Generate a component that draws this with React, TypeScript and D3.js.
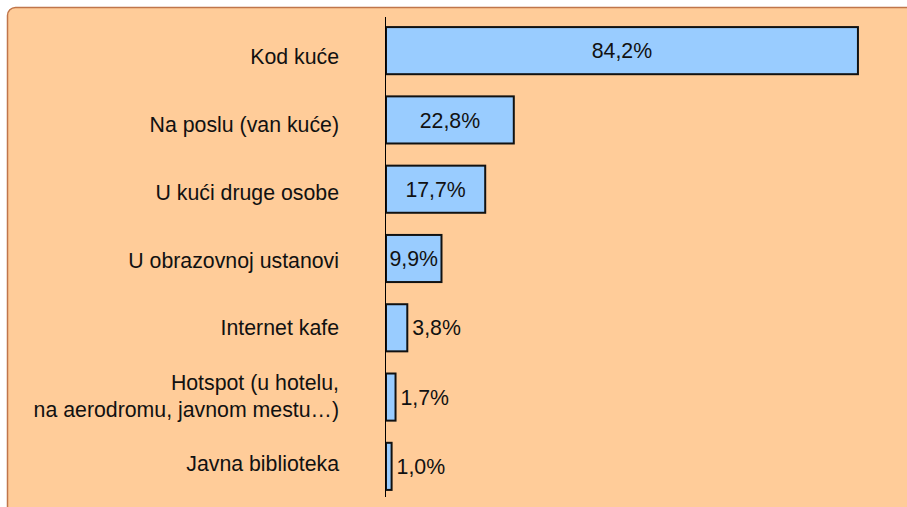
import React from "react";
import * as d3 from "d3";

const categories = [
  "Kod kuće",
  "Na poslu (van kuće)",
  "U kući druge osobe",
  "U obrazovnoj ustanovi",
  "Internet kafe",
  "Hotspot (u hotelu,\nna aerodromu, javnom mestu…)",
  "Javna biblioteka",
];
const values = [84.2, 22.8, 17.7, 9.9, 3.8, 1.7, 1.0];
const valueLabels = ["84,2%", "22,8%", "17,7%", "9,9%", "3,8%", "1,7%", "1,0%"];

const W = 907;
const H = 507;
const FONT = '"Liberation Sans", Arial, Helvetica, sans-serif';

export default function App() {
  const x = d3.scaleLinear().domain([0, 100]).range([386, 946.5]);
  const y = d3
    .scaleBand<string>()
    .domain(categories)
    .range([16, 501])
    .paddingInner(0.32)
    .paddingOuter(0.16);
  const yLabel = d3.scalePoint<string>().domain(categories).range([56.8, 463.3]);
  const fontSize = 21.3;
  const capHalf = 7.6;

  return (
    <svg
      width={W}
      height={H}
      style={{ position: "absolute", left: 0, top: 0, display: "block" }}
      fontFamily={FONT}
    >
      <rect x={0} y={0} width={W} height={H} fill="#ffffff" />
      <rect
        x={7.5}
        y={7.5}
        width={W + 20}
        height={H + 20}
        rx={8}
        ry={8}
        fill="#FFCC99"
        stroke="#C0764A"
        strokeWidth={1.5}
      />
      {categories.map((c, i) => {
        const by = y(c)!;
        const bh = y.bandwidth();
        const x0 = x(0);
        const x1 = x(values[i]);
        const inside = values[i] >= 5;
        const cy = by + bh / 2;
        const lines = c.split("\n");
        const lc = yLabel(c)!;
        const lh = 27;
        return (
          <g key={c}>
            <rect
              x={x0}
              y={by}
              width={x1 - x0}
              height={bh}
              fill="#99CCFF"
              stroke="#111111"
              strokeWidth={2}
            />
            <text
              x={inside ? (x0 + x1) / 2 : x1 + 5}
              y={cy + capHalf}
              textAnchor={inside ? "middle" : "start"}
              fontSize={fontSize}
              fill="#111111"
            >
              {valueLabels[i]}
            </text>
            {lines.map((ln, j) => (
              <text
                key={j}
                x={339}
                y={lc + capHalf + (j - (lines.length - 1) / 2) * lh}
                textAnchor="end"
                fontSize={fontSize}
                fill="#111111"
              >
                {ln}
              </text>
            ))}
          </g>
        );
      })}
      <line x1={385.5} x2={385.5} y1={17} y2={497} stroke="#000000" strokeWidth={1} />
    </svg>
  );
}
